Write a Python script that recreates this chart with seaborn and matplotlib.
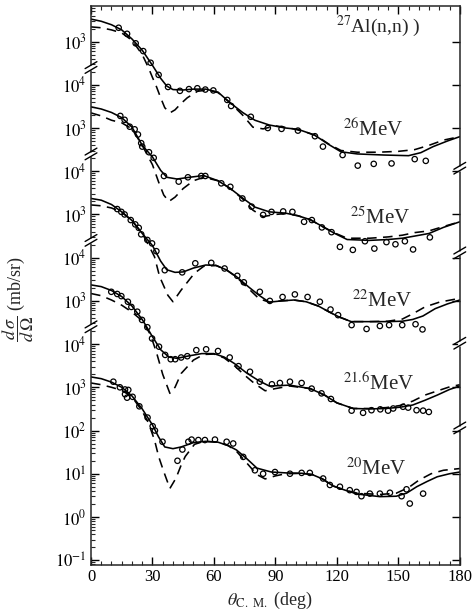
import numpy as np
import pandas as pd
import matplotlib
matplotlib.use("Agg")
import matplotlib.pyplot as plt
import matplotlib.ticker as mticker
import seaborn as sns

# ---------------- data (angles in deg, values as log10 of dσ/dΩ in mb/sr) ----------------
energies = ["20", "21.6", "22", "25", "26"]
offsets = [0, 2, 4, 6, 8]          # decades by which each curve is raised in the stack

exp20_ang = [10.9, 14.1, 16.6, 18.2, 16.6, 17.6, 20.3, 23.6, 27.6, 30.1, 31.2, 34.9, 42.2, 44.6, 47.5, 49.1,
             52.4, 55.6, 60.5, 66.2, 69.4, 74.3, 80.0, 84.0, 89.8, 97.1, 102.8, 106.8, 113.3, 116.6, 121.5,
             126.3, 129.6, 132.0, 136.1, 141.0, 145.9, 151.6, 154.0, 155.6, 162.1]
exp20_log = [3.13, 3.00, 2.95, 2.94, 2.84, 2.76, 2.78, 2.56, 2.30, 2.10, 2.00, 1.74, 1.30, 1.56, 1.74, 1.79,
             1.78, 1.78, 1.79, 1.74, 1.70, 1.39, 1.08, 1.00, 1.04, 1.00, 1.02, 1.02, 0.89, 0.74, 0.70,
             0.62, 0.58, 0.48, 0.54, 0.54, 0.56, 0.48, 0.64, 0.31, 0.54]
sol20_ang = [0, 5, 10, 15, 20, 25, 30, 33, 36, 40, 44, 50, 56, 62, 67, 71, 76, 81, 88, 95, 103, 108, 113,
             118, 124, 130, 141, 149, 154, 159, 164, 169, 175, 180]
sol20_log = [3.24, 3.20, 3.12, 3.00, 2.80, 2.50, 2.13, 1.85, 1.62, 1.58, 1.62, 1.72, 1.75, 1.73, 1.65, 1.55,
             1.35, 1.13, 1.04, 1.02, 1.01, 0.98, 0.88, 0.72, 0.62, 0.53, 0.47, 0.48, 0.55, 0.70, 0.82,
             0.93, 1.00, 1.04]
dash20_ang = [0, 5, 10, 15, 20, 25, 28, 31, 33, 35.5, 38.5, 41.5, 44, 46, 50.5, 55, 62, 67, 71, 76, 81, 85,
              90, 95, 103, 108, 113, 118, 124, 130, 141, 149, 155, 160, 166, 172, 180]
dash20_log = [3.10, 3.06, 3.00, 2.93, 2.78, 2.45, 2.18, 1.78, 1.40, 1.05, 0.66, 0.90, 1.20, 1.40, 1.68, 1.75,
              1.73, 1.65, 1.52, 1.25, 0.98, 0.88, 0.95, 1.00, 1.01, 0.98, 0.88, 0.72, 0.62, 0.55, 0.52,
              0.55, 0.68, 0.85, 1.00, 1.08, 1.12]

exp216_ang = [9.9, 12.8, 14.8, 18.0, 19.7, 22.6, 24.9, 27.5, 29.8, 33.2, 36.2, 38.9, 41.1, 44.0, 47.0, 51.4,
              56.2, 62.0, 67.7, 72.0, 77.6, 82.4, 88.3, 92.2, 97.1, 102.8, 107.7, 112.5, 117.1, 127.2, 132.8,
              136.9, 141.2, 145.0, 147.5, 152.3, 154.8, 158.9, 162.1, 164.9]
exp216_log = [3.21, 3.16, 3.11, 2.98, 2.86, 2.75, 2.56, 2.39, 2.13, 1.94, 1.75, 1.65, 1.65, 1.69, 1.72, 1.86,
              1.88, 1.84, 1.69, 1.49, 1.36, 1.13, 1.07, 1.10, 1.13, 1.10, 0.97, 0.86, 0.73, 0.46, 0.41,
              0.47, 0.49, 0.46, 0.51, 0.55, 0.53, 0.47, 0.46, 0.43]
sol216_ang = [0, 5, 10, 15, 20, 25, 30, 34, 38, 42, 47, 54, 60, 65, 70, 76, 82, 87, 97, 107, 114, 120, 128,
              136, 144, 151, 157, 163, 169, 175, 180]
sol216_log = [3.37, 3.33, 3.24, 3.10, 2.88, 2.57, 2.17, 1.87, 1.70, 1.67, 1.72, 1.78, 1.78, 1.70, 1.55, 1.33,
              1.15, 1.03, 1.05, 0.97, 0.82, 0.64, 0.51, 0.50, 0.51, 0.54, 0.59, 0.70, 0.82, 0.95, 1.03]
dash216_ang = [0, 5, 10, 15, 20, 25, 29, 32, 35, 38.5, 41, 44, 50, 55, 60, 65, 70, 75, 80, 85, 90, 97, 107,
               114, 120, 128, 136, 144, 151, 157, 163, 168, 175, 180]
dash216_log = [3.17, 3.12, 3.02, 2.90, 2.74, 2.54, 2.22, 1.80, 1.30, 0.86, 1.00, 1.32, 1.63, 1.76, 1.77, 1.68,
               1.50, 1.28, 1.08, 0.92, 0.97, 1.03, 0.97, 0.82, 0.64, 0.51, 0.51, 0.53, 0.58, 0.68, 0.82,
               0.90, 1.01, 1.06]

exp22_ang = [12.8, 14.8, 16.4, 19.4, 21.6, 23.3, 24.5, 27.5, 29.8, 31.9, 36.0, 44.5, 50.9, 58.7, 65.2, 71.4,
             74.6, 82.4, 87.3, 93.5, 99.5, 105.7, 111.7, 116.9, 120.6, 127.2, 134.5, 141.0, 145.5, 151.9,
             158.4, 161.8]
exp22_log = [3.125, 3.06, 3.00, 2.87, 2.77, 2.69, 2.54, 2.41, 2.33, 2.15, 1.71, 1.66, 1.87, 1.88, 1.75, 1.58,
             1.43, 1.21, 1.00, 1.09, 1.15, 1.09, 0.98, 0.80, 0.67, 0.44, 0.35, 0.42, 0.44, 0.44, 0.46, 0.34]
sol22_ang = [0, 5, 10, 15, 20, 25, 30, 34, 37, 41, 45, 50, 56, 61, 66, 71, 77, 82, 87, 93, 99, 105, 111, 116,
             121, 127, 136, 145, 152, 157, 162, 168, 174, 180]
sol22_log = [3.37, 3.33, 3.23, 3.06, 2.86, 2.56, 2.28, 1.92, 1.72, 1.66, 1.67, 1.76, 1.83, 1.82, 1.72, 1.56,
             1.32, 1.13, 0.97, 1.00, 1.02, 0.98, 0.88, 0.75, 0.63, 0.52, 0.52, 0.52, 0.53, 0.57, 0.65, 0.82,
             0.93, 1.02]
dash22_ang = [0, 5, 10, 15, 20, 25, 28, 31, 33.5, 37.5, 40, 44, 50.5, 55, 61, 66, 71, 77, 82, 87, 93, 99, 105,
              111, 116, 121, 127, 136, 145, 152, 157, 163, 170, 180]
dash22_log = [3.22, 3.20, 3.15, 3.05, 2.86, 2.56, 2.30, 2.02, 1.56, 1.13, 0.98, 1.25, 1.64, 1.80, 1.82, 1.72,
              1.55, 1.28, 1.05, 0.97, 1.00, 1.02, 0.98, 0.88, 0.75, 0.63, 0.52, 0.52, 0.53, 0.58, 0.70, 0.86,
              0.97, 1.06]

exp25_ang = [14.3, 16.4, 18.9, 21.3, 22.9, 24.5, 25.0, 28.3, 30.6, 35.6, 42.8, 47.3, 53.8, 55.8, 63.6, 68.0,
             73.9, 78.4, 84.0, 88.1, 93.8, 98.3, 104.0, 107.8, 112.7, 117.4, 121.5, 127.8, 133.7, 138.3,
             144.2, 148.6, 153.2, 157.2, 165.4]
exp25_log = [3.28, 3.19, 3.03, 2.97, 2.85, 2.65, 2.57, 2.44, 2.31, 1.89, 1.76, 1.86, 1.89, 1.89, 1.72, 1.64,
             1.37, 1.18, 0.99, 1.06, 1.07, 1.06, 0.83, 0.87, 0.70, 0.59, 0.25, 0.18, 0.38, 0.21, 0.36, 0.31,
             0.38, 0.19, 0.47]
sol25_ang = [0, 5, 10, 15, 20, 25, 30, 34, 37, 42, 48, 55, 62, 68, 74, 80, 87, 95, 101, 107, 113, 119, 125,
             136, 145, 152, 158, 165, 172, 180]
sol25_log = [3.49, 3.44, 3.36, 3.24, 3.02, 2.60, 2.33, 2.02, 1.86, 1.82, 1.86, 1.90, 1.78, 1.60, 1.38, 1.17,
             1.06, 1.03, 0.97, 0.88, 0.72, 0.56, 0.42, 0.40, 0.42, 0.45, 0.50, 0.56, 0.70, 0.83]
dash25_ang = [0, 5, 10, 15, 20, 25, 30, 33, 35.5, 38, 41, 45, 50, 55, 62, 68, 74, 79, 84, 90, 95, 101, 107,
              113, 119, 125, 136, 145, 152, 158, 165, 172, 180]
dash25_log = [3.35, 3.28, 3.18, 3.12, 2.98, 2.60, 2.15, 1.75, 1.45, 1.30, 1.40, 1.60, 1.78, 1.86, 1.78, 1.60,
              1.36, 1.10, 0.95, 1.00, 1.02, 0.97, 0.88, 0.72, 0.57, 0.45, 0.45, 0.48, 0.52, 0.58, 0.62, 0.72,
              0.83]

exp26_ang = [13.5, 17.6, 21.8, 25.5, 29.1, 33.0, 37.6, 43.4, 47.8, 51.9, 55.8, 59.7, 66.5, 68.4, 78.0, 86.3,
             93.0, 101.0, 109.3, 113.2, 122.8, 130.2, 138.0, 146.7, 158.0, 163.4]
exp26_log = [3.32, 3.18, 2.96, 2.78, 2.51, 2.23, 1.95, 1.86, 1.90, 1.92, 1.89, 1.87, 1.65, 1.51, 1.26, 1.00,
             0.98, 0.94, 0.81, 0.57, 0.375, 0.13, 0.17, 0.18, 0.28, 0.24]
sol26_ang = [0, 5, 10, 15, 20, 25, 30, 34, 37, 40, 45, 50, 56, 62, 68, 74, 80, 87, 95, 101, 109, 116, 122,
             130, 143, 155, 161, 167, 174, 180]
sol26_log = [3.52, 3.47, 3.39, 3.27, 3.06, 2.80, 2.45, 2.15, 1.97, 1.89, 1.88, 1.90, 1.90, 1.83, 1.58, 1.36,
             1.18, 1.07, 1.00, 0.97, 0.84, 0.62, 0.45, 0.40, 0.375, 0.36, 0.43, 0.57, 0.70, 0.80]
dash26_ang = [0, 5, 10, 15, 20, 25, 28, 30, 32, 34, 36, 38.5, 41, 44, 47, 52, 57, 62, 68, 74, 79, 84, 90, 97,
              104, 110, 116, 122, 130, 140, 150, 158, 165, 172, 180]
dash26_log = [3.34, 3.32, 3.27, 3.20, 3.03, 2.70, 2.40, 2.17, 1.95, 1.70, 1.47, 1.35, 1.42, 1.57, 1.70, 1.85,
              1.88, 1.82, 1.58, 1.30, 1.02, 0.98, 1.05, 1.00, 0.92, 0.82, 0.63, 0.48, 0.44, 0.44, 0.46, 0.50,
              0.60, 0.72, 0.80]

ytick_labels = [r"$10^{-1}$", r"$10^{0}$", r"$10^{1}$", r"$10^{2}$", r"$10^{3}$", r"$10^{4}$", r"$10^{3}$",
                r"$10^{4}$", r"$10^{3}$", r"$10^{4}$", r"$10^{3}$", r"$10^{4}$", r"$10^{3}$"]
xtick_vals = [0, 30, 60, 90, 120, 150, 180]

# ---------------- long-form tables ----------------
exp_sets = [(exp20_ang, exp20_log), (exp216_ang, exp216_log), (exp22_ang, exp22_log),
            (exp25_ang, exp25_log), (exp26_ang, exp26_log)]
sol_sets = [(sol20_ang, sol20_log), (sol216_ang, sol216_log), (sol22_ang, sol22_log),
            (sol25_ang, sol25_log), (sol26_ang, sol26_log)]
dash_sets = [(dash20_ang, dash20_log), (dash216_ang, dash216_log), (dash22_ang, dash22_log),
             (dash25_ang, dash25_log), (dash26_ang, dash26_log)]

pts, crv = [], []
for e, off, (ea, el), (sa, sl), (da, dl) in zip(energies, offsets, exp_sets, sol_sets, dash_sets):
    pts.append(pd.DataFrame({"angle": ea, "value": 10 ** (np.array(el) + off), "energy": e}))
    crv.append(pd.DataFrame({"angle": sa, "value": 10 ** (np.array(sl) + off), "energy": e, "model": "solid"}))
    crv.append(pd.DataFrame({"angle": da, "value": 10 ** (np.array(dl) + off), "energy": e, "model": "dashed"}))
points = pd.concat(pts, ignore_index=True)
curves = pd.concat(crv, ignore_index=True)
curves["unit"] = curves["energy"] + "_" + curves["model"]

# ---------------- style ----------------
sns.set_theme(style="ticks")
plt.rcParams["font.family"] = ["Liberation Serif", "DejaVu Serif"]
plt.rcParams["mathtext.fontset"] = "stix"
plt.rcParams["axes.linewidth"] = 1.1

fig = plt.figure(figsize=(4.74, 6.15), dpi=100)
ax = fig.add_axes([0.192, 0.081, 0.778, 0.909])
ax.set_yscale("log")

sns.lineplot(data=curves, x="angle", y="value", units="unit", style="model", estimator=None, sort=False,
             color="black", dashes={"solid": "", "dashed": (6, 4)}, lw=1.15, legend=False, ax=ax)
sns.scatterplot(data=points, x="angle", y="value", marker="o", s=15, color="black", linewidth=0.9,
                legend=False, ax=ax, zorder=4)
coll = ax.collections[-1]
coll.set_facecolor("none")
coll.set_edgecolor("black")

ax.set_xlim(0, 180)
ax.set_ylim(10 ** -1.116, 10 ** 11.82)

ax.set_xticks(xtick_vals)
ax.set_xticklabels([str(v) for v in xtick_vals], fontsize=12)
ax.xaxis.set_minor_locator(mticker.MultipleLocator(5))
ax.set_yticks([10.0 ** k for k in range(-1, 12)])
ax.set_yticklabels(ytick_labels, fontsize=12)
ax.yaxis.set_minor_locator(mticker.LogLocator(base=10, subs=np.arange(2, 10), numticks=40))
ax.yaxis.set_minor_formatter(mticker.NullFormatter())
ax.tick_params(axis="both", which="major", direction="in", length=6, width=1.0, pad=3, colors="black")
ax.tick_params(axis="both", which="minor", direction="in", length=3, width=0.8)
ax.tick_params(axis="x", which="both", top=True)
ax.tick_params(axis="y", which="major", right=True)
ax.tick_params(axis="y", which="minor", right=False)

ax.set_xlabel(r"$\theta_{\mathrm{C.\ M.}}$ (deg)", fontsize=13)
ax.xaxis.set_label_coords(0.485, -0.045)
ax.set_ylabel(r"$\dfrac{d\,\sigma}{d\,\Omega}$ (mb/sr)", fontsize=13)
ax.yaxis.set_label_coords(-0.15, 0.476)

# axis break marks
def axis_break(xa, b, h=0.08, gap=0.055, dx=0.016):
    tr = ax.get_yaxis_transform()
    ax.plot([xa, xa], [10 ** (b - gap), 10 ** (b + gap)], color="white", lw=3.5, transform=tr,
            clip_on=False, zorder=6, solid_capstyle="butt")
    for s in (-gap, gap):
        ax.plot([xa - dx, xa + dx], [10 ** (b + s - h), 10 ** (b + s + h)], color="black", lw=1.0,
                transform=tr, clip_on=False, zorder=7)

for b in (10.4, 8.4, 6.4, 4.4):
    axis_break(0.0, b)
for b in (8.07, 6.11, 4.02, 2.06):
    axis_break(1.0, b)

# labels
ax.text(119.5, 10 ** 11.23, r"$^{27}$Al(n,n) )", fontsize=14, ha="left", va="baseline")
label_pos = {"26": (122.9, 8.81), "25": (126.3, 6.78), "22": (127.2, 4.86),
             "21.6": (123.0, 2.94), "20": (124.7, 0.97)}
for e in energies:
    xx, yy = label_pos[e]
    ax.text(xx, 10 ** yy, rf"$^{{{e}}}$MeV", fontsize=15, ha="left", va="baseline")

fig.savefig("out.png", dpi=100)
